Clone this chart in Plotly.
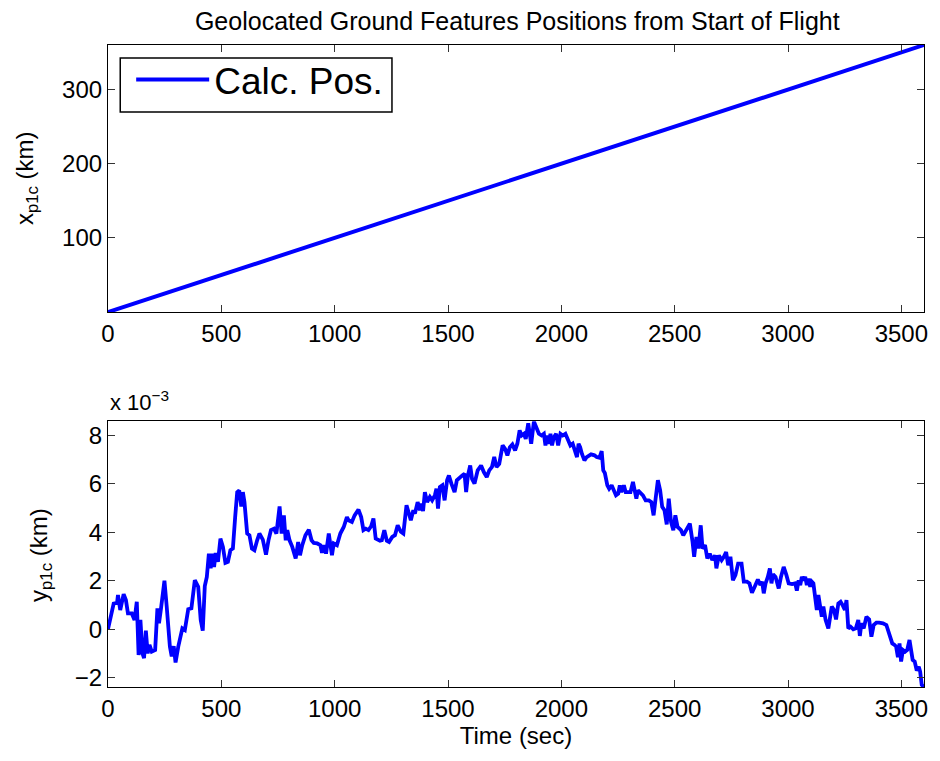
import plotly.graph_objects as go

# ---- top panel: calculated x position (km) vs time (s)
t_top = [0, 3600]
x_p1c_km = [0, 360]

# ---- bottom panel: y position in units of 1e-3 km
t_seg1 = [0, 25, 40, 44, 54, 69, 79, 88, 105, 117, 127, 135, 143, 152, 159, 167, 175, 183, 193, 208,
          218, 225, 234, 249, 259, 273, 281, 290, 298, 310, 328, 339, 354, 368, 383, 398, 409, 418, 427, 436,
          445, 453, 461, 468, 475, 485, 496, 507, 518, 529, 540, 551, 561, 570, 579, 588, 595, 602, 614, 624,
          635, 646, 658, 668, 683, 697, 708, 719]
y_seg1 = [0.0, 1.06, 1.09, 1.41, 0.79, 1.45, 1.20, 0.65, 0.65, 0.38, 1.13, -1.07, 0.38, -1.0, -1.20, -0.06, -1.0, -0.65, -0.93, -0.86,
          0.86, 0.24, 0.86, 2.0, 0.93, -0.72, -1.13, -0.70, -1.38, -0.72, 0.03, -0.04, 0.82, 0.86, 2.02, 1.75, 0.38, -0.06, 1.78, 2.16,
          3.12, 2.51, 3.12, 2.57, 3.15, 2.78, 3.74, 3.40, 2.74, 2.78, 3.26, 3.33, 4.63, 5.66, 5.73, 5.07, 5.66, 5.25, 3.95, 3.88,
          3.33, 3.26, 3.67, 3.95, 3.70, 3.08, 3.67, 4.09]

t_seg2 = [732, 743, 757, 766, 776, 784, 791, 801, 813, 828, 839, 847, 857, 871, 886, 898, 908, 923, 937, 944,
          952, 962, 974, 981, 988, 996, 1010, 1025, 1040, 1054, 1061, 1076, 1088, 1105, 1117, 1127, 1137, 1149, 1161, 1171,
          1181, 1200, 1208, 1219, 1230, 1240, 1254, 1266, 1278, 1292, 1303, 1317, 1328, 1336, 1347, 1354, 1366, 1376, 1383, 1390,
          1398, 1408, 1420, 1430]
y_seg2 = [4.15, 3.95, 5.07, 3.95, 4.70, 3.67, 4.09, 3.67, 3.40, 2.92, 3.60, 3.05, 3.47, 3.88, 4.11, 3.67, 3.56, 3.54, 3.47, 3.15,
          3.47, 3.12, 3.95, 3.40, 3.05, 3.54, 3.47, 3.95, 4.22, 4.63, 4.50, 4.43, 4.70, 4.94, 4.63, 4.09, 4.15, 4.09, 4.25, 4.57,
          3.74, 3.65, 3.67, 4.09, 3.65, 3.60, 3.81, 3.88, 4.29, 4.02, 3.95, 5.12, 4.77, 4.50, 4.91, 4.77, 5.25, 4.91, 5.18, 4.88,
          5.66, 5.25, 5.46, 5.32]

t_seg3 = [1442, 1449, 1456, 1464, 1475, 1485, 1496, 1504, 1515, 1529, 1539, 1551, 1563, 1573, 1580, 1588, 1598, 1606, 1617, 1631,
          1646, 1658, 1671, 1682, 1694, 1704, 1714, 1726, 1741, 1752, 1762, 1773, 1784, 1796, 1806, 1816, 1825, 1835, 1843, 1854,
          1860, 1867, 1879, 1889, 1901, 1913, 1923, 1930, 1937, 1945, 1952, 1959, 1967, 1977, 1986, 1996, 2006, 2018, 2029, 2040,
          2050, 2058, 2069, 2076, 2083, 2091, 2102, 2112, 2131, 2146]
y_seg3 = [5.53, 5.80, 4.98, 5.87, 5.94, 5.32, 6.15, 6.35, 6.01, 5.66, 6.15, 6.28, 6.35, 6.42, 5.66, 6.35, 6.76, 6.21, 6.01, 6.56,
          6.76, 6.49, 6.28, 6.56, 6.70, 7.11, 6.70, 6.83, 7.59, 7.45, 7.18, 7.52, 7.63, 7.38, 7.66, 8.21, 8.0, 8.07, 7.86, 8.50,
          8.07, 7.66, 8.58, 8.34, 8.07, 8.0, 8.07, 7.59, 8.0, 7.66, 8.07, 7.59, 7.93, 8.07, 7.59, 8.07, 8.0, 8.07, 7.79, 7.59,
          7.66, 7.45, 7.11, 7.66, 7.52, 7.24, 6.97, 7.11, 7.22, 7.18]

t_seg4 = [2156, 2168, 2178, 2185, 2192, 2203, 2211, 2222, 2232, 2241, 2251, 2258, 2265, 2276, 2284, 2294, 2305, 2316, 2324, 2331,
          2338, 2348, 2360, 2372, 2386, 2397, 2407, 2415, 2426, 2436, 2445, 2455, 2465, 2474, 2484, 2494, 2503, 2513, 2528, 2538,
          2550, 2567, 2579, 2586, 2596, 2605, 2615, 2623, 2634, 2644, 2655, 2666, 2678, 2684, 2695, 2707, 2717, 2727, 2736, 2746,
          2757, 2768, 2780, 2795, 2805, 2819, 2830, 2841, 2853, 2867, 2878]
y_seg4 = [7.11, 7.08, 7.35, 6.56, 6.45, 5.94, 5.80, 5.94, 5.66, 5.53, 5.60, 5.94, 5.66, 5.94, 5.66, 5.66, 5.66, 6.08, 5.60, 5.39,
          5.73, 5.66, 5.53, 5.32, 5.32, 5.25, 4.70, 5.32, 6.15, 5.73, 5.05, 4.91, 4.33, 5.39, 4.43, 4.09, 4.70, 4.22, 4.09, 3.88,
          4.09, 4.36, 3.60, 2.99, 3.81, 3.33, 4.29, 3.33, 3.47, 2.92, 3.12, 2.85, 3.05, 2.51, 3.05, 2.85, 2.99, 3.19, 2.64, 2.99,
          2.02, 2.23, 2.71, 2.71, 1.96, 1.96, 1.89, 1.50, 1.75, 2.05, 1.82]

t_seg5 = [2886, 2893, 2901, 2911, 2920, 2927, 2934, 2945, 2959, 2969, 2981, 2993, 3003, 3018, 3032, 3039, 3047, 3054, 3061, 3069,
          3076, 3083, 3091, 3098, 3105, 3112, 3120, 3127, 3134, 3142, 3149, 3156, 3166, 3178, 3185, 3193, 3203, 3212, 3222, 3232,
          3241, 3251, 3258, 3266, 3276, 3288, 3299, 3310, 3317, 3324, 3334, 3346, 3358, 3368, 3378, 3390, 3402, 3419, 3434, 3448,
          3460, 3470, 3477, 3485, 3492, 3499, 3507, 3517, 3526, 3536, 3543, 3550, 3559, 3568, 3577, 3583, 3590, 3600]
y_seg5 = [1.96, 1.48, 1.89, 2.16, 2.51, 1.89, 2.27, 2.16, 1.68, 2.16, 2.57, 2.23, 1.89, 1.86, 1.89, 1.59, 2.02, 1.82, 2.16, 2.02,
          2.16, 1.82, 2.09, 1.75, 1.96, 1.89, 1.13, 0.79, 1.41, 0.93, 0.51, 0.93, 0.38, 0.03, 0.51, 0.93, 0.79, 0.40, 1.06, 1.13,
          0.99, 0.79, 1.20, 0.03, 0.10, -0.01, 0.03, 0.38, -0.28, 0.24, 0.03, 0.51, 0.40, -0.31, 0.17, 0.27, 0.27, 0.24, 0.17, -0.31,
          -0.59, -0.65, -0.72, -1.16, -0.59, -1.34, -0.86, -0.93, -0.86, -0.45, -0.86, -1.27, -1.34, -1.71, -1.55, -1.75, -2.30, -2.39]

t_bottom = t_seg1 + t_seg2 + t_seg3 + t_seg4 + t_seg5
y_p1c_1e3km = y_seg1 + y_seg2 + y_seg3 + y_seg4 + y_seg5

x_ticks = [0, 500, 1000, 1500, 2000, 2500, 3000, 3500]
top_y_ticks = [100, 200, 300]
bottom_y_ticks = [-2, 0, 2, 4, 6, 8]

FONT = "Liberation Sans, Arial, Helvetica, sans-serif"
BLUE = "#0000ff"

fig = go.Figure()
fig.add_trace(go.Scatter(x=t_top, y=x_p1c_km, mode="lines", name="Calc. Pos.",
                         line=dict(color=BLUE, width=4), xaxis="x", yaxis="y"))
fig.add_trace(go.Scatter(x=t_bottom, y=y_p1c_1e3km, mode="lines", showlegend=False,
                         line=dict(color=BLUE, width=3.8), xaxis="x2", yaxis="y2"))

axis_style = dict(showline=True, linecolor="black", linewidth=1.2, mirror="allticks",
                  ticks="inside", ticklen=7, tickwidth=1.2, tickcolor="#333333",
                  showgrid=False, zeroline=False,
                  tickfont=dict(family=FONT, size=24, color="black"))

# the page adds an 8 px body margin, so the figure is 8 px smaller and margins shifted
fig.update_layout(
    width=932, height=753,
    margin=dict(l=99.7, r=12.3, t=37, b=74),
    paper_bgcolor="white", plot_bgcolor="white",
    font=dict(family=FONT, color="black"),
    title=dict(text="Geolocated Ground Features Positions from Start of Flight",
               xref="paper", x=0.5016, xanchor="center", y=0.994, yanchor="top", yref="container",
               pad=dict(t=0, b=0, l=0, r=0),
               font=dict(family=FONT, size=25, color="black")),
    xaxis=dict(domain=[0, 1], range=[0, 3600], tickvals=x_ticks, anchor="y", **axis_style),
    yaxis=dict(domain=[0.584, 1], range=[0, 360], tickvals=top_y_ticks, anchor="x", **axis_style),
    xaxis2=dict(domain=[0, 1], range=[0, 3600], tickvals=x_ticks, anchor="y2",
                title=dict(text="Time (sec)", font=dict(family=FONT, size=24, color="black"), standoff=4),
                **axis_style),
    yaxis2=dict(domain=[0, 0.414], range=[-2.39, 8.59], tickvals=bottom_y_ticks, anchor="x2", **axis_style),
    legend=dict(x=0.0284, y=0.9937, xanchor="left", yanchor="top",
                borderwidth=0, bgcolor="rgba(0,0,0,0)",
                font=dict(family=FONT, size=37, color="black"), itemwidth=73),
    showlegend=True,
)

# legend frame
fig.add_shape(type="rect", xref="paper", yref="paper", x0=0.015, x1=0.348, y0=0.8956, y1=0.9798,
              line=dict(color="black", width=1.5), fillcolor="rgba(0,0,0,0)", layer="above")

fig.add_annotation(text="x<sub>p1c</sub> (km)", textangle=-90, showarrow=False,
                   xref="paper", yref="paper", x=-0.099, y=0.793, xanchor="center", yanchor="middle",
                   font=dict(family=FONT, size=24, color="black"))
fig.add_annotation(text="y<sub>p1c</sub> (km)", textangle=-90, showarrow=False,
                   xref="paper", yref="paper", x=-0.083, y=0.206, xanchor="center", yanchor="middle",
                   font=dict(family=FONT, size=24, color="black"))
fig.add_annotation(text="x 10<sup>\u22123</sup>", showarrow=False,
                   xref="paper", yref="paper", x=0.0, y=0.420, xanchor="left", yanchor="bottom",
                   font=dict(family=FONT, size=22, color="black"))

fig.write_html("out.html")
